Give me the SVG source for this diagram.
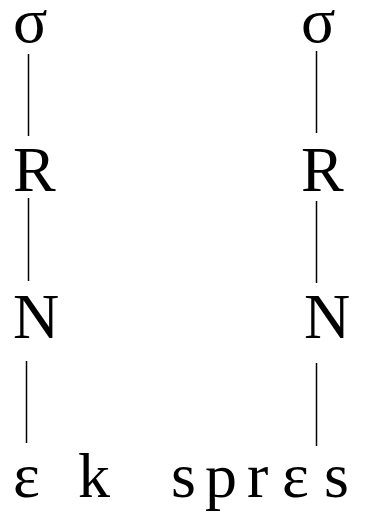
<svg xmlns="http://www.w3.org/2000/svg" width="387" height="513" viewBox="0 0 387 513">
<style>
text{font-family:"Liberation Serif","Times New Roman",serif;font-size:64px;fill:#000}
line{stroke:#000;stroke-width:1.5}
</style>
<rect width="387" height="513" fill="#fff"/>
<g id="connectors">
<line x1="28.5" y1="54" x2="28.5" y2="136"/>
<line x1="28.5" y1="198" x2="28.5" y2="281"/>
<line x1="26.5" y1="361" x2="26.5" y2="443"/>
<line x1="316.5" y1="51" x2="316.5" y2="133"/>
<line x1="316.5" y1="201" x2="316.5" y2="283"/>
<line x1="316.5" y1="363" x2="316.5" y2="446"/>
</g>
<g id="sigma1"><text x="13" y="42">σ</text></g>
<g id="R1"><text x="13" y="191">R</text></g>
<g id="N1"><text x="13" y="338">N</text></g>
<g id="sigma2"><text x="301" y="42">σ</text></g>
<g id="R2"><text x="301" y="191">R</text></g>
<g id="N2"><text x="304" y="338">N</text></g>
<g id="segments">
<text x="13" y="497">ɛ</text>
<text x="78" y="497">k</text>
<text x="171" y="497">s</text>
<text x="205" y="497">p</text>
<text x="247" y="497">r</text>
<text x="282" y="497">ɛ</text>
<text x="324" y="497">s</text>
</g>
</svg>
